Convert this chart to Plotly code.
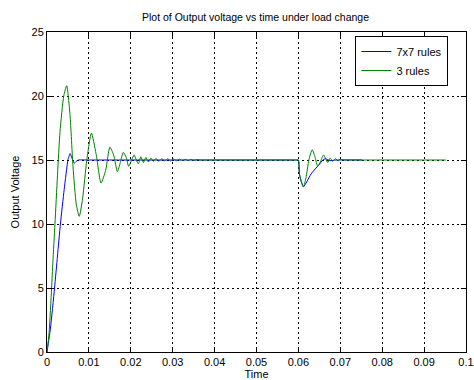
import plotly.graph_objects as go

# 7x7 rules (blue)
t_blue = [0, 0.0008, 0.0018, 0.0025, 0.0032, 0.0041, 0.0050, 0.0055, 0.0060, 0.0065, 0.0070, 0.0075,
          0.0100, 0.0400, 0.0590, 0.0596, 0.0600, 0.0603, 0.0612, 0.0620, 0.0630, 0.0640, 0.0650,
          0.0658, 0.0665, 0.0675, 0.0690, 0.0752]
v_blue = [0, 1.8, 5.0, 7.5, 10.0, 12.7, 15.0, 15.5, 15.1, 14.75, 14.9, 15.0,
          15.0, 15.0, 15.0, 15.0, 15.0, 13.8, 12.9, 13.3, 13.9, 14.3, 14.65,
          15.0, 15.1, 14.95, 15.0, 15.0]

# 3 rules (green)
t_green = [0, 0.0005, 0.0011, 0.0014, 0.0019, 0.0025, 0.0031, 0.0040, 0.0047, 0.0055, 0.0062, 0.0070,
           0.0077, 0.0085, 0.0095, 0.0106, 0.0117, 0.0129, 0.0140, 0.0150, 0.0159, 0.0168, 0.0175,
           0.0182, 0.0189, 0.0195, 0.0202, 0.0208, 0.0213, 0.0218, 0.0224, 0.0230, 0.0236, 0.0242,
           0.0248, 0.0254, 0.0260, 0.0267, 0.0274, 0.0281, 0.0288, 0.0295, 0.0302, 0.0309, 0.0316,
           0.0323, 0.0330, 0.0337, 0.0344, 0.0351, 0.0358, 0.0365, 0.0370, 0.0400, 0.0590, 0.0596,
           0.0600, 0.0602, 0.0606, 0.0612, 0.0618, 0.0625, 0.0633, 0.0640, 0.0646, 0.0653, 0.0660,
           0.0665, 0.0670, 0.0676, 0.0682, 0.0688, 0.0694, 0.0700, 0.0710, 0.0720, 0.0952]
v_green = [0, 1.5, 5.0, 7.0, 10.0, 13.8, 17.2, 20.0, 20.8, 18.5, 14.5, 11.5,
           10.6, 12.0, 15.0, 17.1, 15.5, 13.2, 14.2, 16.0, 15.4, 14.1, 14.8,
           15.6, 15.2, 14.5, 15.0, 15.4, 15.0, 14.7, 15.25, 14.8, 15.2, 14.85,
           15.15, 14.9, 15.12, 14.9, 15.1, 14.92, 15.1, 14.93, 15.08, 14.94, 15.07,
           14.95, 15.06, 14.96, 15.05, 14.97, 15.04, 15.0, 15.0, 15.0, 15.0, 15.0,
           15.0, 14.0, 13.4, 12.9, 13.6, 15.0, 15.8, 15.2, 14.5, 14.9, 15.4,
           15.1, 14.8, 15.15, 14.9, 15.1, 14.95, 15.05, 15.0, 15.0, 15.0]

x_ticks = [0, 0.01, 0.02, 0.03, 0.04, 0.05, 0.06, 0.07, 0.08, 0.09, 0.1]
x_ticklabels = ["0", "0.01", "0.02", "0.03", "0.04", "0.05", "0.06", "0.07", "0.08", "0.09", "0.1"]
y_ticks = [0, 5, 10, 15, 20, 25]

font = "Liberation Sans, Arial, sans-serif"

fig = go.Figure()
fig.add_trace(go.Scatter(x=t_blue, y=v_blue, mode="lines", name="7x7 rules",
                         line=dict(color="#0000ff", width=1, shape="spline", smoothing=0.5)))
fig.add_trace(go.Scatter(x=t_green, y=v_green, mode="lines", name="3 rules",
                         line=dict(color="#008000", width=1, shape="spline", smoothing=0.6)))

axis_common = dict(showline=True, linecolor="black", linewidth=1, mirror="ticks",
                   ticks="inside", ticklen=5, tickcolor="black", automargin=False,
                   showgrid=True, gridcolor="black", gridwidth=1, griddash="2px,3px",
                   zeroline=False, ticklabeloverflow="allow",
                   tickfont=dict(family=font, size=11, color="black"))

fig.update_layout(
    width=474, height=380,
    margin=dict(l=47, r=8, t=32, b=28, autoexpand=False),
    paper_bgcolor="white", plot_bgcolor="white",
    font=dict(family=font, size=11, color="black"),
    title=dict(text="Plot of Output voltage vs time under load change", x=255.5 / 474, xanchor="center",
               y=1 - 17 / 380, yanchor="middle", font=dict(family=font, size=10.5, color="black")),
    xaxis=dict(range=[0, 0.10000001], tickvals=x_ticks, ticktext=x_ticklabels,
               title=dict(text="Time", standoff=4, font=dict(family=font, size=11)), **axis_common),
    yaxis=dict(range=[0, 25], tickvals=y_ticks,
               title=dict(text="Output Voltage", standoff=9, font=dict(family=font, size=11)), **axis_common),
    showlegend=True,
    legend=dict(x=0.736, y=0.9875, xanchor="left", yanchor="top", bgcolor="white",
                bordercolor="black", borderwidth=1, font=dict(family=font, size=11),
                itemwidth=30, tracegroupgap=0),
)

fig.write_html("out.html")
